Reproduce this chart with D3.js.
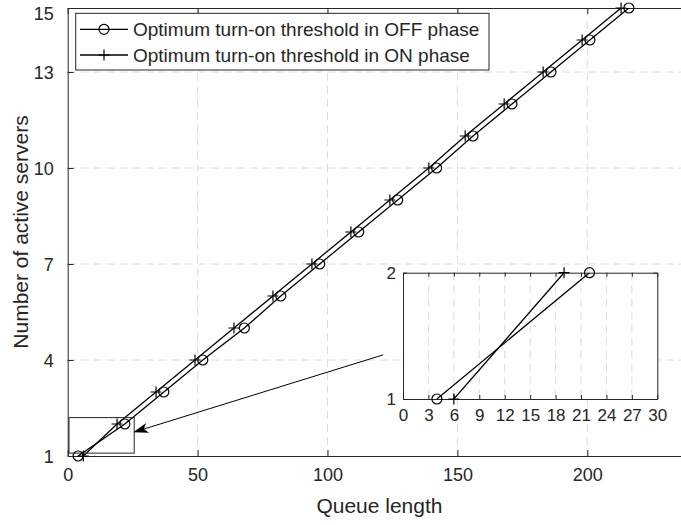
<!DOCTYPE html>
<html><head><meta charset="utf-8">
<script src="https://cdn.jsdelivr.net/npm/d3@7"></script>
<style>
body{margin:0;background:#fff}
text{font-family:"Liberation Sans",Arial,Helvetica,sans-serif;fill:#262626}
</style>
</head><body>
<svg id="chart" width="681" height="525"></svg>
<script>
// ---- data ----
const servers = [1,2,3,4,5,6,7,8,9,10,11,12,13,14,15];
const offThreshold = [4,22,37,52,68,82,97,112,127,142,156,171,186,201,216];
const onThreshold  = [6,19,34,49,64,79,94,109,124,139,153,168,183,198,213];
const seriesNames = ["Optimum turn-on threshold in OFF phase","Optimum turn-on threshold in ON phase"];
const xTicks = [0,50,100,150,200];
const yTicks = [1,4,7,10,13,15];
const insetXTicks = [0,3,6,9,12,15,18,21,24,27,30];
const insetYTicks = [1,2];
const xLabel = "Queue length";
const yLabel = "Number of active servers";
// annotation (data units of main axes)
const zoomBox = {x0:0.5, x1:25.6, y0:1.09, y1:2.2};
const arrowFrom = {x:121.4, y:4.16};
const arrowTo = {x:25.25, y:1.74};

const svg = d3.select("#chart");
const ink = "#262626", gridCol = "#dcdcdc";

// ---- main axes ----
const M = {l:67.7, t:8, b:456};
const x = d3.scaleLinear().domain([0,240]).range([M.l, M.l + 240*2.598]);
const y = d3.scaleLinear().domain([1,15]).range([M.b, M.t]);
const R = x(240);

svg.append("defs").append("clipPath").attr("id","mainClip")
  .append("rect").attr("x",M.l).attr("y",M.t).attr("width",R-M.l).attr("height",M.b-M.t);

// grid
const g = svg.append("g");
g.selectAll(".gx").data(xTicks.filter(d=>d>0)).join("line")
  .attr("x1",d=>x(d)).attr("x2",d=>x(d)).attr("y1",M.t).attr("y2",M.b)
  .attr("stroke",gridCol).attr("stroke-dasharray","8,5").attr("stroke-width",1);
g.selectAll(".gy").data(yTicks.filter(d=>d>1 && d<15)).join("line")
  .attr("y1",d=>y(d)).attr("y2",d=>y(d)).attr("x1",M.l).attr("x2",R)
  .attr("stroke",gridCol).attr("stroke-dasharray","8,5").attr("stroke-width",1);

// axes
const xAxis = d3.axisBottom(x).tickValues(xTicks).tickSizeInner(-6).tickSizeOuter(0).tickPadding(12);
const gx = svg.append("g").attr("transform",`translate(0,${M.b})`).call(xAxis);
const xTop = svg.append("g").attr("transform",`translate(0,${M.t})`)
  .call(d3.axisTop(x).tickValues(xTicks).tickSizeInner(-6).tickSizeOuter(0).tickFormat(""));
const yAxis = d3.axisLeft(y).tickValues(yTicks).tickSizeInner(-6).tickSizeOuter(0).tickPadding(14);
const gy = svg.append("g").attr("transform",`translate(${M.l},0)`).call(yAxis);
[gx,xTop,gy].forEach(a=>{
  a.select(".domain").attr("stroke",ink).attr("stroke-width",1);
  a.selectAll(".tick line").attr("stroke",ink);
  a.selectAll("text").attr("font-size",18).attr("fill",ink).attr("font-family",null);
});
gy.selectAll(".tick text").attr("dy",d=> d===15 ? "0.62em" : "0.38em");

// lines + markers
const lineGen = (xs,ys,xS,yS) => d3.line().x((d,i)=>xS(xs[i])).y((d,i)=>yS(ys[i]));
function drawSeries(parent, xs, ys, xS, yS, marker, clip, r){
  parent.append("path").datum(xs).attr("d", lineGen(xs,ys,xS,yS))
    .attr("fill","none").attr("stroke","#000").attr("stroke-width",1.3)
    .attr("clip-path", clip);
  const m = parent.append("g");
  xs.forEach((v,i)=>{
    const px = xS(v), py = yS(ys[i]);
    if (marker==="o") {
      m.append("circle").attr("cx",px).attr("cy",py).attr("r",r)
        .attr("fill","none").attr("stroke","#000").attr("stroke-width",1.2);
    } else {
      m.append("path").attr("d",`M${px-r},${py}H${px+r}M${px},${py-r}V${py+r}`)
        .attr("stroke","#000").attr("stroke-width",1.2);
    }
  });
}
drawSeries(svg, offThreshold, servers, x, y, "o", "url(#mainClip)", 5);
drawSeries(svg, onThreshold, servers, x, y, "+", "url(#mainClip)", 5.5);

// zoom rectangle
svg.append("rect").attr("x",x(zoomBox.x0)).attr("y",y(zoomBox.y1))
  .attr("width",x(zoomBox.x1)-x(zoomBox.x0)).attr("height",y(zoomBox.y0)-y(zoomBox.y1))
  .attr("fill","none").attr("stroke",ink).attr("stroke-width",1);

// arrow
(function(){
  const x1=x(arrowFrom.x), y1=y(arrowFrom.y), x2=x(arrowTo.x), y2=y(arrowTo.y);
  const ang = Math.atan2(y2-y1, x2-x1);
  const L=15, W=5, notch=11;
  const ux=Math.cos(ang), uy=Math.sin(ang), nx=-uy, ny=ux;
  const bx = x2-ux*L, by=y2-uy*L;
  const nbx = x2-ux*notch, nby = y2-uy*notch;
  svg.append("line").attr("x1",x1).attr("y1",y1).attr("x2",nbx).attr("y2",nby)
    .attr("stroke","#000").attr("stroke-width",1);
  svg.append("path").attr("d",`M${x2},${y2}L${bx+nx*W},${by+ny*W}L${nbx},${nby}L${bx-nx*W},${by-ny*W}Z`)
    .attr("fill","#000");
})();

// ---- legend ----
const lg = svg.append("g");
lg.append("rect").attr("x",75.7).attr("y",13.3).attr("width",489-75.7).attr("height",70-13.3)
  .attr("fill","#fff").attr("stroke",ink).attr("stroke-width",1);
[["o",29.3],["+",55]].forEach(([mk,cy],i)=>{
  lg.append("line").attr("x1",80).attr("x2",128).attr("y1",cy).attr("y2",cy)
    .attr("stroke","#000").attr("stroke-width",1.3);
  if (mk==="o") lg.append("circle").attr("cx",104).attr("cy",cy).attr("r",5)
      .attr("fill","none").attr("stroke","#000").attr("stroke-width",1.2);
  else lg.append("path").attr("d",`M${98.5},${cy}H${109.5}M104,${cy-5.5}V${cy+5.5}`)
      .attr("stroke","#000").attr("stroke-width",1.2);
  lg.append("text").attr("x",133).attr("y",cy).attr("dy","0.35em")
    .attr("font-size",19).text(seriesNames[i]);
});

// axis labels
svg.append("text").attr("x",(M.l+R)/2).attr("y",513).attr("text-anchor","middle")
  .attr("font-size",21).text(xLabel);
svg.append("text").attr("transform",`translate(28,${(M.t+M.b)/2}) rotate(-90)`)
  .attr("text-anchor","middle").attr("font-size",21).text(yLabel);

// ---- inset ----
const I = {l:403, r:657.3, t:272.7, b:399};
const ix = d3.scaleLinear().domain([0,30]).range([I.l, I.r]);
const iy = d3.scaleLinear().domain([1,2]).range([I.b, I.t]);
svg.append("defs").append("clipPath").attr("id","insetClip")
  .append("rect").attr("x",I.l).attr("y",I.t).attr("width",I.r-I.l).attr("height",I.b-I.t);
const ins = svg.append("g");
ins.append("rect").attr("x",I.l).attr("y",I.t).attr("width",I.r-I.l).attr("height",I.b-I.t)
  .attr("fill","#fff");
ins.selectAll(".igx").data(insetXTicks.filter(d=>d>0 && d<30)).join("line")
  .attr("x1",d=>ix(d)).attr("x2",d=>ix(d)).attr("y1",I.t).attr("y2",I.b)
  .attr("stroke",gridCol).attr("stroke-dasharray","8,5");
const ixa = ins.append("g").attr("transform",`translate(0,${I.b})`)
  .call(d3.axisBottom(ix).tickValues(insetXTicks).tickSizeInner(-4).tickSizeOuter(0).tickPadding(10));
const ixt = ins.append("g").attr("transform",`translate(0,${I.t})`)
  .call(d3.axisTop(ix).tickValues(insetXTicks).tickSizeInner(-4).tickSizeOuter(0).tickFormat(""));
const iya = ins.append("g").attr("transform",`translate(${I.l},0)`)
  .call(d3.axisLeft(iy).tickValues(insetYTicks).tickFormat(d3.format("d")).tickSizeInner(-4).tickSizeOuter(0).tickPadding(7));
const iyr = ins.append("g").attr("transform",`translate(${I.r},0)`)
  .call(d3.axisRight(iy).tickValues(insetYTicks).tickSizeInner(-4).tickSizeOuter(0).tickFormat(""));
[ixa,ixt,iya,iyr].forEach(a=>{
  a.select(".domain").attr("stroke",ink).attr("stroke-width",1);
  a.selectAll(".tick line").attr("stroke",ink);
  a.selectAll("text").attr("font-size",17).attr("fill",ink).attr("font-family",null);
});
const insetIdx = servers.map((s,i)=>i).filter(i=>servers[i]<=2);
drawSeries(ins, insetIdx.map(i=>offThreshold[i]), insetIdx.map(i=>servers[i]), ix, iy, "o", "url(#insetClip)", 5);
drawSeries(ins, insetIdx.map(i=>onThreshold[i]), insetIdx.map(i=>servers[i]), ix, iy, "+", "url(#insetClip)", 5.5);
</script>
</body></html>
